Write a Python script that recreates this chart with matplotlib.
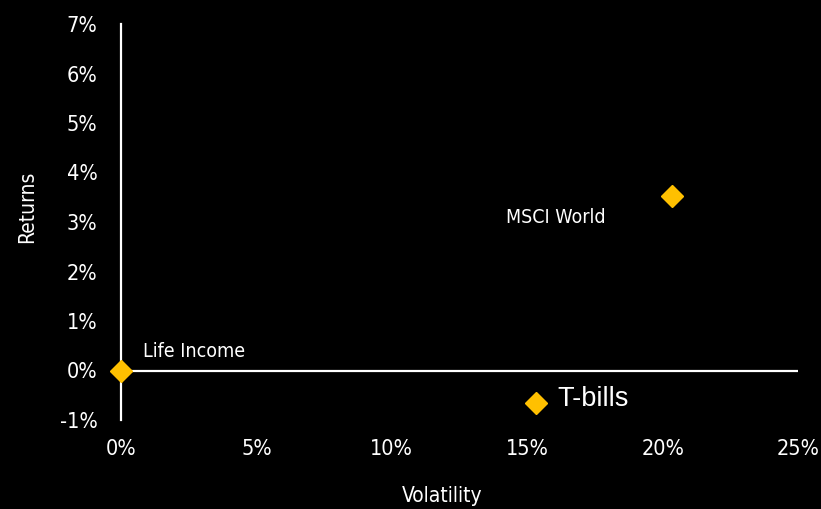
import matplotlib.pyplot as plt
from matplotlib.ticker import PercentFormatter

plt.rcParams['axes.unicode_minus'] = False
plt.rcParams['font.family'] = 'DejaVu Sans'
plt.rcParams['font.stretch'] = 'condensed'

# risk / return per asset (in %)
names = ['Life Income', 'MSCI World', 'T-bills']
volatility = [0.0, 20.35, 15.32]
returns = [0.0, 3.52, -0.66]

x_ticks = [0, 5, 10, 15, 20, 25]
y_ticks = [-1, 0, 1, 2, 3, 4, 5, 6, 7]

gold = '#FFC000'

fig = plt.figure(figsize=(8.21, 5.09), dpi=100, facecolor='black')
ax = fig.add_axes([121 / 821, 89 / 509, 677 / 821, 396 / 509], facecolor='black')

ax.plot(volatility, returns, linestyle='none', marker='D', markersize=11,
        color=gold, zorder=5, clip_on=False)

ax.set_xlim(0, 25)
ax.set_ylim(-1, 7)
ax.set_xticks(x_ticks)
ax.set_yticks(y_ticks)
ax.xaxis.set_major_formatter(PercentFormatter(decimals=0))
ax.yaxis.set_major_formatter(PercentFormatter(decimals=0))

for s in ['top', 'right', 'bottom']:
    ax.spines[s].set_visible(False)
ax.spines['left'].set_color('white')
ax.spines['left'].set_linewidth(1.6)
ax.axhline(0, color='white', linewidth=1.6, zorder=2)

ax.tick_params(axis='both', length=0, colors='white', labelsize=15.5)
ax.tick_params(axis='y', pad=17)
ax.tick_params(axis='x', pad=14)

# point labels
ax.text(0.8, 0.38, names[0], color='white', fontsize=14,
        va='center', ha='left')
ax.text(14.2, 3.1, names[1], color='white', fontsize=14,
        va='center', ha='left')
ax.text(16.1, -0.57, names[2], color='white', fontsize=19.5,
        family='Liberation Sans', fontstretch='normal', va='center', ha='left')

fig.text(27 / 821, 1 - 207 / 509, 'Returns', color='white', fontsize=15,
         rotation=90, ha='center', va='center')
fig.text(442 / 821, 1 - 496 / 509, 'Volatility', color='white', fontsize=15,
         ha='center', va='center')

fig.savefig('out.png', dpi=100, facecolor='black')
